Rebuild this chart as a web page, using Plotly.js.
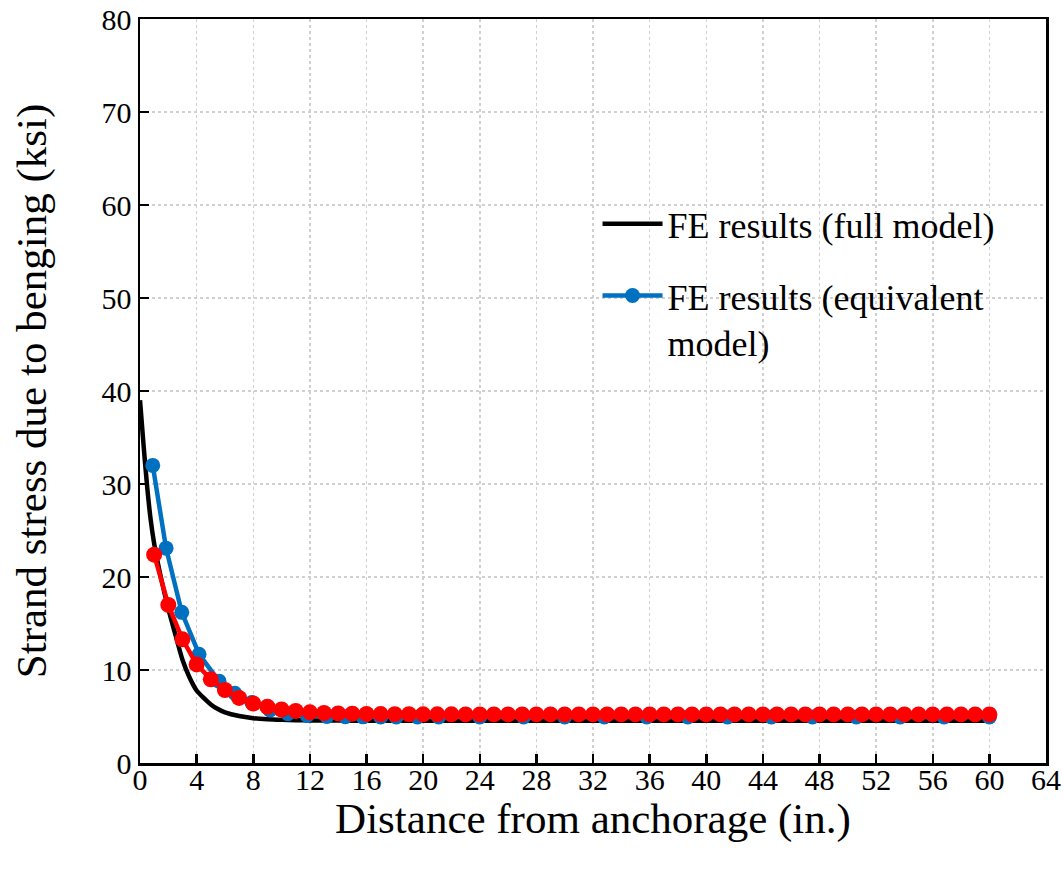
<!DOCTYPE html>
<html>
<head>
<meta charset="utf-8">
<script src="https://cdn.plot.ly/plotly-3.0.1.min.js"></script>
<style>html,body{margin:0;padding:0;background:#fff;}#chart{width:1064px;height:871px;}</style>
</head>
<body>
<div id="chart"></div>
<script>
// Full model (smooth curve)
const fullX = [0,0.25,0.5,0.75,1,1.5,2,2.5,3,3.5,4,4.5,5,5.5,6,7,8,9,10,11,12,14,16,20,24,28,32,36,40,44,48,52,56,60];
const fullY = [39,34.2,29.8,26.2,23.6,19.8,16.6,13.8,11.1,9.2,7.8,7.0,6.3,5.8,5.45,5.05,4.82,4.7,4.64,4.6,4.58,4.56,4.55,4.55,4.55,4.55,4.55,4.55,4.55,4.55,4.55,4.55,4.55,4.55];

// Equivalent model (blue)
const eqX = [0.9,1.84,2.95,4.17,5.58,6.7,7.9,9.18,10.45,11.8,13.2,14.5,15.75,17.0,18.1,19.6,21.1,24.0,27.1,30.0,32.8,35.8,38.7,41.5,44.6,47.5,50.6,53.7,56.8,60];
const eqY = [32.0,23.1,16.2,11.7,8.8,7.5,6.5,5.7,5.3,5.1,5.0,4.98,4.96,4.95,4.95,4.95,4.95,4.95,4.95,4.95,4.95,4.95,4.95,4.95,4.95,4.95,4.95,4.95,4.95,4.95];

// Red series (not in legend)
const redX = [1,2,3,4,5,6,7,8,9,10,11,12,13,14,15,16,17,18,19,20,21,22,23,24,25,26,27,28,29,30,31,32,33,34,35,36,37,38,39,40,41,42,43,44,45,46,47,48,49,50,51,52,53,54,55,56,57,58,59,60];
const redY = [22.4,17.0,13.3,10.6,9.0,7.85,7.0,6.4,6.05,5.75,5.6,5.45,5.38,5.33,5.3,5.28,5.26,5.25,5.24,5.23,5.23,5.23,5.22,5.22,5.22,5.22,5.22,5.22,5.22,5.22,5.22,5.22,5.22,5.22,5.22,5.22,5.22,5.22,5.22,5.22,5.22,5.22,5.22,5.22,5.22,5.22,5.22,5.22,5.22,5.22,5.22,5.22,5.22,5.22,5.22,5.22,5.22,5.22,5.22,5.22];

const xTicks = [0,4,8,12,16,20,24,28,32,36,40,44,48,52,56,60,64];
const yTicks = [0,10,20,30,40,50,60,70,80];

const font = "'Liberation Serif', 'Times New Roman', Times, serif";

const traces = [
  {x: fullX, y: fullY, mode: 'lines', name: 'FE results (full model)', legendgroup: 'a',
   line: {color: '#000000', width: 4.5, shape: 'spline', smoothing: 0.6}},
  {x: eqX, y: eqY, mode: 'lines+markers', name: 'FE results (equivalent<br>model)', legendgroup: 'b',
   line: {color: '#0070C0', width: 4.5}, marker: {color: '#0070C0', size: 15}},
  {x: redX, y: redY, mode: 'lines+markers', name: 'red', showlegend: false, legendgroup: 'c',
   line: {color: '#FF0000', width: 4.5}, marker: {color: '#FF0000', size: 16}}
];

const axisCommon = {
  showline: true, linecolor: '#000', linewidth: 2.5, mirror: true,
  ticks: 'inside', ticklen: 9, tickwidth: 2.5, tickcolor: '#000',
  showgrid: true, gridcolor: '#d0d0d0', griddash: 'dot', gridwidth: 1.5,
  zeroline: false, tickfont: {family: font, size: 30, color: '#000'}
};

const layout = {
  width: 1064, height: 871,
  margin: {l: 140, r: 18, t: 19, b: 108},
  paper_bgcolor: '#fff', plot_bgcolor: '#fff',
  font: {family: font, color: '#000'},
  showlegend: true,
  legend: {x: 0.505, y: 0.765, xanchor: 'left', yanchor: 'top', bgcolor: 'rgba(0,0,0,0)',
           valign: 'top',
           font: {family: font, size: 36, color: '#000'}, tracegroupgap: 22, itemwidth: 60},
  xaxis: Object.assign({}, axisCommon, {
    range: [0, 64], tickmode: 'array', tickvals: xTicks, ticktext: xTicks.map(String),
    ticklabelstandoff: -12,
    title: {text: 'Distance from anchorage (in.)', font: {family: font, size: 43, color: '#000'}, standoff: 8}
  }),
  yaxis: Object.assign({}, axisCommon, {
    range: [0, 80], tickmode: 'array', tickvals: yTicks, ticktext: yTicks.map(String),
    ticklabelstandoff: 0,
    title: {text: 'Strand stress due to benging (ksi)', font: {family: font, size: 43, color: '#000'}, standoff: 42}
  })
};

Plotly.newPlot('chart', traces, layout, {displayModeBar: false, staticPlot: true});
</script>
</body>
</html>
